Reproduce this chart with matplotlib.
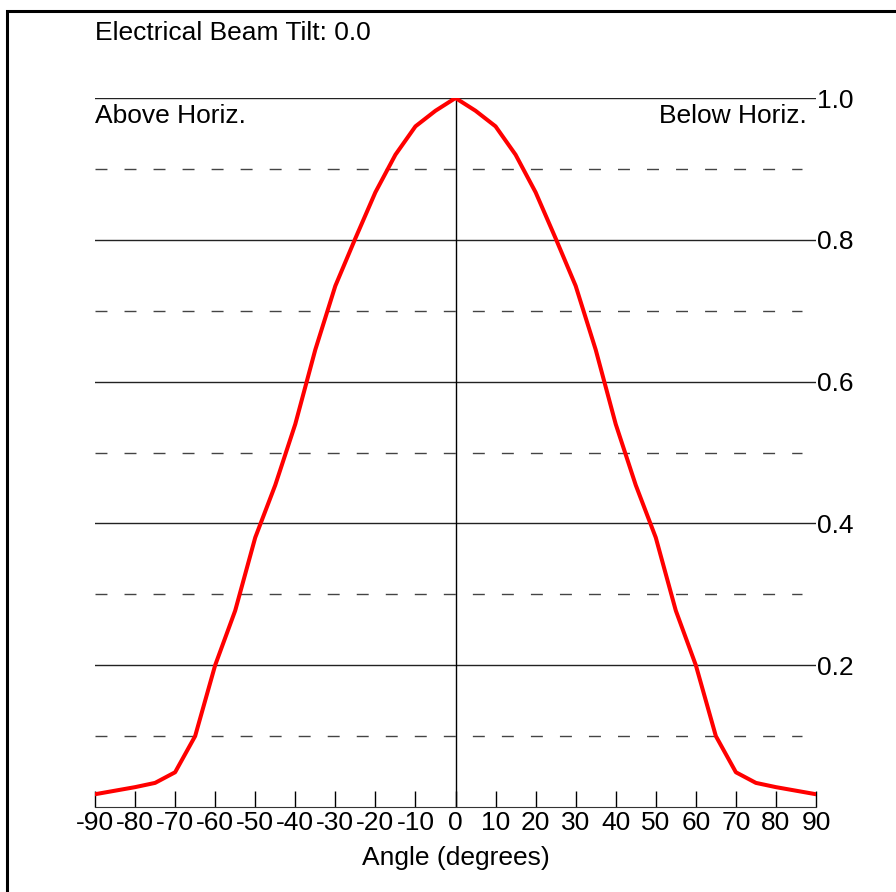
import matplotlib.pyplot as plt
from matplotlib.patches import Rectangle

# Vertical pattern, normalised field vs. angle
angles = [-90, -85, -80, -75, -70, -65, -60, -55, -50, -45, -40, -35, -30, -25, -20,
          -15, -10, -5, 0, 5, 10, 15, 20, 25, 30, 35, 40, 45, 50, 55, 60, 65, 70,
          75, 80, 85, 90]
left_half = [0.018, 0.023, 0.028, 0.034, 0.049, 0.100, 0.200, 0.277, 0.380, 0.454,
             0.540, 0.645, 0.735, 0.802, 0.867, 0.920, 0.960, 0.982]
pattern = left_half + [1.0] + left_half[::-1]

xticks = list(range(-90, 91, 10))
solid_levels = [0.2, 0.4, 0.6, 0.8, 1.0]
dashed_levels = [0.1, 0.3, 0.5, 0.7, 0.9]
title = "Electrical Beam Tilt: 0.0"

plt.rcParams['font.family'] = ['Liberation Sans', 'DejaVu Sans']
FS = 19
W, H = 896, 892
fig = plt.figure(figsize=(W / 100, H / 100), dpi=100)
ax = fig.add_axes([95 / W, 1 - 807 / H, 721 / W, (807 - 98) / H])

for y in dashed_levels:
    ax.axhline(y, xmax=0.98, color='#444444', lw=1, dashes=(8.6, 12.3))
for y in solid_levels:
    ax.axhline(y, color='#222222', lw=1)
ax.axvline(0, color='black', lw=1)

ax.plot(angles, pattern, color='#ff0000', lw=2.9, solid_joinstyle='round')

ax.set_xlim(-90, 90)
ax.set_ylim(0, 1)
ax.set_xticks(xticks)
ax.set_xticklabels([str(t) for t in xticks], fontsize=FS)
ax.tick_params(axis='x', direction='in', length=11.5, width=1, pad=3, color='black')
ax.yaxis.tick_right()
ax.set_yticks(solid_levels)
ax.set_yticklabels(['%.1f' % v for v in solid_levels], fontsize=FS)
ax.tick_params(axis='y', length=0, pad=1)
for s in ['top', 'left', 'right']:
    ax.spines[s].set_visible(False)
ax.spines['bottom'].set_color('#333333')

ax.text(-90, 0.9647, "Above Horiz.", fontsize=FS, va='baseline', ha='left')
ax.text(87.7, 0.9647, "Below Horiz.", fontsize=FS, va='baseline', ha='right')
fig.text(95 / W, 1 - 40 / H, title, fontsize=FS, va='baseline', ha='left')
fig.text(455.5 / W, 1 - 865 / H, "Angle (degrees)", fontsize=FS, va='baseline', ha='center')

fig.patches.append(Rectangle((6.5 / W, -0.1), 1.2, 1.1 - 10.5 / H, transform=fig.transFigure,
                             fill=False, edgecolor='black', lw=2.2))

fig.savefig("out.png", dpi=100)
